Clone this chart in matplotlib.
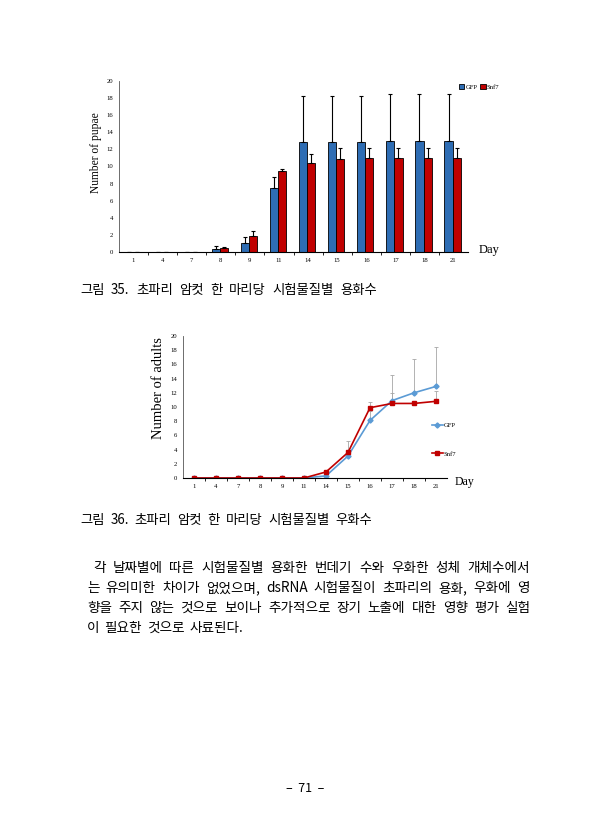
import numpy as np
import matplotlib
matplotlib.use('Agg')
import matplotlib.pyplot as plt

# data
days = ['1', '4', '7', '8', '9', '11', '14', '15', '16', '17', '18', '21']

pupae_gfp = [0, 0, 0, 0.35, 1.1, 7.5, 12.9, 12.9, 12.9, 13.0, 13.0, 13.0]
pupae_gfp_err = [0, 0, 0, 0.3, 0.7, 1.3, 5.3, 5.3, 5.3, 5.5, 5.5, 5.5]
pupae_snf7 = [0, 0, 0, 0.5, 1.85, 9.5, 10.45, 10.9, 11.0, 11.0, 11.0, 11.0]
pupae_snf7_err = [0, 0, 0, 0.1, 0.55, 0.25, 1.0, 1.3, 1.2, 1.2, 1.2, 1.2]

adult_gfp = [0, 0, 0, 0, 0, 0, 0.3, 3.1, 8.1, 10.9, 12.0, 12.9]
adult_gfp_err = [0, 0, 0, 0, 0, 0, 0, 2.1, 1.4, 3.6, 4.8, 5.6]
adult_snf7 = [0, 0, 0, 0, 0, 0, 0.85, 3.6, 9.9, 10.5, 10.5, 10.8]
adult_snf7_err = [0, 0, 0, 0, 0, 0, 0, 0, 0.8, 1.5, 0, 1.4]

caption1 = '그림 35. 초파리 암컷 한 마리당 시험물질별 용화수'
caption2 = '그림 36. 초파리 암컷 한 마리당 시험물질별 우화수'
para = ['각 날짜별에 따른 시험물질별 용화한 번데기 수와 우화한 성체 개체수에서',
        '는 유의미한 차이가 없었으며, dsRNA 시험물질이 초파리의 용화, 우화에 영',
        '향을 주지 않는 것으로 보이나 추가적으로 장기 노출에 대한 영향 평가 실험',
        '이 필요한 것으로 사료된다.']

W, H = 610, 840
kfont = ['Noto Sans CJK KR', 'DejaVu Sans']
serif = 'Liberation Serif'

fig = plt.figure(figsize=(W / 100, H / 100), dpi=100)


def fx(px):
    return px / W


def fy(py):
    return 1 - py / H


x = np.arange(len(days)) + 0.5

# ---- chart 1: pupae bars
ax1 = fig.add_axes([fx(119), fy(252), fx(349), 171 / H])
bw = 0.28
ax1.bar(x - bw / 2 - 0.03, pupae_gfp, bw, color='#2E6DB4', edgecolor='black', linewidth=0.6,
        yerr=[np.zeros(12), pupae_gfp_err], error_kw=dict(elinewidth=0.8, capsize=1.5, capthick=0.8),
        label='GFP')
ax1.bar(x + bw / 2 - 0.03, pupae_snf7, bw, color='#C00000', edgecolor='black', linewidth=0.6,
        yerr=[np.zeros(12), pupae_snf7_err], error_kw=dict(elinewidth=0.8, capsize=1.5, capthick=0.8),
        label='Snf7')
ax1.set_xlim(0, 12)
ax1.set_ylim(0, 20)
ax1.set_yticks(range(0, 21, 2))
ax1.set_xticks(np.arange(1, 12))
ax1.set_xticks(x, minor=True)
ax1.set_xticklabels([])
ax1.set_xticklabels(days, minor=True)
ax1.tick_params(axis='x', which='major', length=2.5, width=0.6, direction='out')
ax1.tick_params(axis='x', which='minor', length=0, labelsize=4.8, pad=4)
ax1.tick_params(axis='y', length=0, labelsize=4.8, pad=4)
for lab in ax1.get_xticklabels(minor=True) + ax1.get_yticklabels():
    lab.set_family(serif)
for s in ['top', 'right']:
    ax1.spines[s].set_visible(False)
ax1.spines['left'].set_linewidth(0.6)
ax1.spines['left'].set_color('#555555')
ax1.spines['bottom'].set_linewidth(0.8)
ax1.set_ylabel('Number of pupae', family=serif, fontsize=8.3)
ax1.yaxis.set_label_coords(-0.05, 0.58)
ax1.legend(loc='upper right', bbox_to_anchor=(1.1, 1.0), ncol=2, frameon=False,
           prop={'family': serif, 'size': 4.8}, handlelength=0.8, handleheight=0.8,
           handletextpad=0.2, columnspacing=0.4, borderpad=0)
fig.text(fx(479), fy(250), 'Day', family=serif, fontsize=9, va='center')

# ---- chart 2: adults lines
ax2 = fig.add_axes([fx(183), fy(478), fx(264), 142 / H])
ax2.errorbar(x, adult_gfp, yerr=[np.zeros(12), adult_gfp_err], color='#5B9BD5', marker='D',
             markersize=2.6, linewidth=1.2, ecolor='#A6A6A6', elinewidth=0.6, capsize=1.5,
             capthick=0.6, label='GFP')
ax2.errorbar(x, adult_snf7, yerr=[np.zeros(12), adult_snf7_err], color='#C00000', marker='s',
             markersize=2.9, linewidth=1.2, ecolor='#A6A6A6', elinewidth=0.6, capsize=1.5,
             capthick=0.6, label='Snf7')
ax2.set_xlim(0, 12)
ax2.set_ylim(0, 20)
ax2.set_yticks(range(0, 21, 2))
ax2.set_xticks(np.arange(1, 12))
ax2.set_xticks(x, minor=True)
ax2.set_xticklabels([])
ax2.set_xticklabels(days, minor=True)
ax2.tick_params(axis='x', which='major', length=2.5, width=0.6, direction='out')
ax2.tick_params(axis='x', which='minor', length=0, labelsize=4.8, pad=4)
ax2.tick_params(axis='y', length=0, labelsize=4.8, pad=4)
for lab in ax2.get_xticklabels(minor=True) + ax2.get_yticklabels():
    lab.set_family(serif)
for s in ['top', 'right']:
    ax2.spines[s].set_visible(False)
ax2.spines['left'].set_linewidth(0.6)
ax2.spines['left'].set_color('#555555')
ax2.spines['bottom'].set_linewidth(0.8)
ax2.set_ylabel('Number of adults', family=serif, fontsize=10.5)
ax2.yaxis.set_label_coords(-0.07, 0.63)
h, l = ax2.get_legend_handles_labels()
h = [hh[0] for hh in h]
ax2.legend(h, l, loc='center left', bbox_to_anchor=(0.93, 0.27), frameon=False,
           prop={'family': serif, 'size': 4.8}, handlelength=1.6, handletextpad=0.2,
           labelspacing=3.4, borderpad=0)
fig.text(fx(455), fy(482), 'Day', family=serif, fontsize=8.5, va='center')

# ---- page text
renderer = fig.canvas.get_renderer()


def justify(line, x0, x1, ypx, size=9.8):
    words = line.split(' ')
    arts = [fig.text(0, fy(ypx), w, family=kfont, fontsize=size, va='center') for w in words]
    widths = [a.get_window_extent(renderer).width for a in arts]
    gap = (x1 - x0 - sum(widths)) / max(len(words) - 1, 1)
    pos = x0
    for a, w in zip(arts, widths):
        a.set_x(fx(pos))
        pos += w + gap


justify(caption1, 80, 377, 290, size=9.6)
justify(caption2, 80, 372, 520, size=9.6)

line_y = [568, 588, 608, 628]
justify(para[0], 93, 530, line_y[0])
justify(para[1], 87, 530, line_y[1])
justify(para[2], 87, 530, line_y[2])
justify(para[3], 87, 243, line_y[3])

fig.text(fx(305), fy(788), '–  71  –', family=kfont, fontsize=9, ha='center', va='center')

fig.savefig('out.png', dpi=100)
